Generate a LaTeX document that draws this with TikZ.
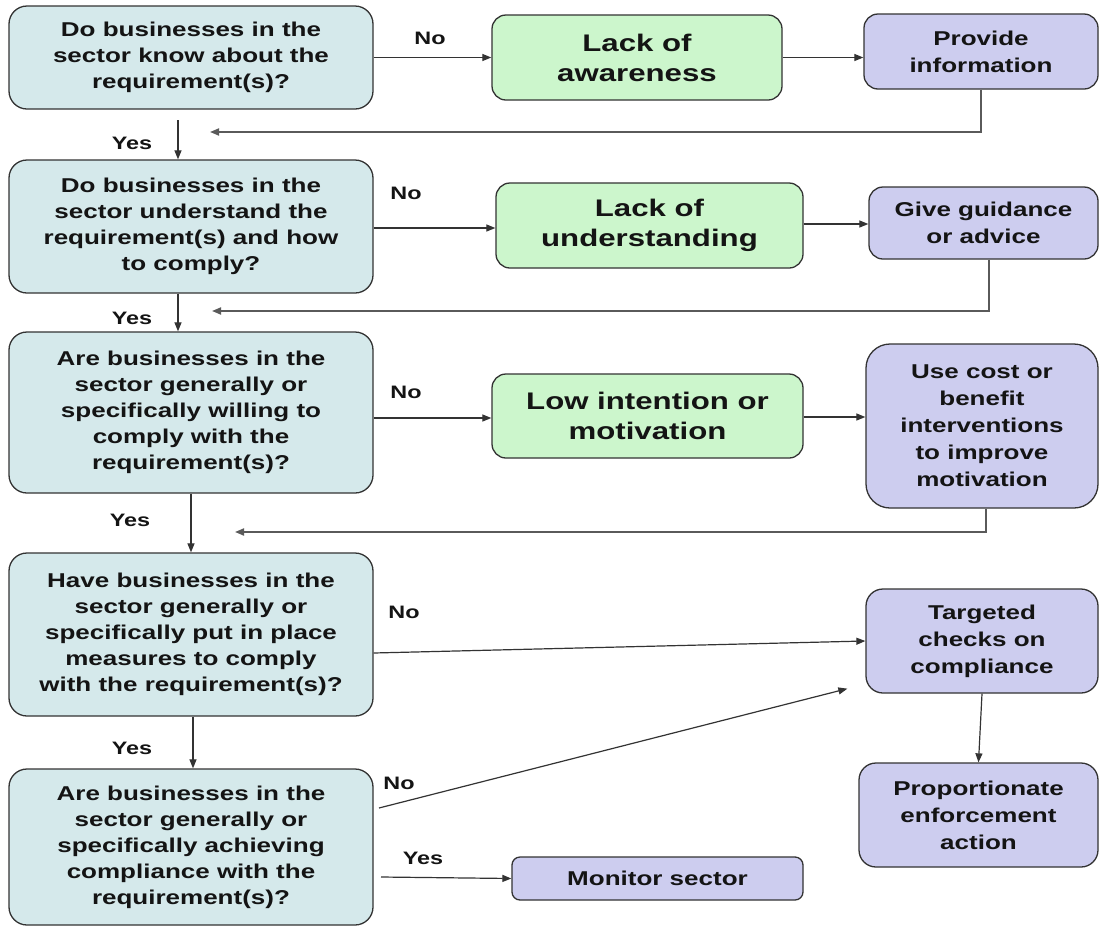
\documentclass[tikz,border=0pt]{standalone}
\usepackage{fontspec}
\setmainfont{Liberation Sans}[FakeStretch=1.3]
\usetikzlibrary{arrows.meta}
\definecolor{qfill}{HTML}{D5E9EB}
\definecolor{gfill}{HTML}{CCF6CC}
\definecolor{pfill}{HTML}{CDCDEF}
\definecolor{edgec}{HTML}{333333}
\definecolor{fbc}{HTML}{5A5A5A}
\definecolor{txt}{HTML}{141414}
\begin{document}
\begin{tikzpicture}[x=1pt,y=-1pt,
  box/.style={draw=edgec, line width=1.3pt, align=center, inner sep=0pt, text=txt},
  qbox/.style={box, fill=qfill, rounded corners=18pt, minimum width=364pt,
    font=\fontsize{20}{26}\selectfont\bfseries},
  gbox/.style={box, fill=gfill, rounded corners=14pt,
    font=\fontsize{24}{30}\selectfont\bfseries},
  pbox/.style={box, fill=pfill, rounded corners=14pt,
    font=\fontsize{20}{27}\selectfont\bfseries},
  lab/.style={font=\fontsize{18}{20}\selectfont\bfseries, text=txt, inner sep=0pt},
  conn/.style={draw=edgec, line width=1.2pt, -{Triangle[length=9pt,width=7pt]}},
  fb/.style={draw=fbc, line width=1.8pt, -{Triangle[length=9pt,width=7pt]}}
]
\useasboundingbox[fill=white] (0,0) rectangle (1101,930);

% question boxes
\node[qbox, minimum height=103pt] (q1) at (191,57.5)
  {Do businesses in the\\sector know about the\\requirement(s)?};
\node[qbox, minimum height=133pt] (q2) at (191,226.5)
  {Do businesses in the\\sector understand the\\requirement(s) and how\\to comply?};
\node[qbox, minimum height=161pt] (q3) at (191,412.5)
  {Are businesses in the\\sector generally or\\specifically willing to\\comply with the\\requirement(s)?};
\node[qbox, minimum height=163pt] (q4) at (191,634.5)
  {Have businesses in the\\sector generally or\\specifically put in place\\measures to comply\\with the requirement(s)?};
\node[qbox, minimum height=156pt] (q5) at (191,847)
  {Are businesses in the\\sector generally or\\specifically achieving\\compliance with the\\requirement(s)?};

% diagnosis boxes
\node[gbox, minimum width=290pt, minimum height=85pt] (g1) at (637,57.5) {Lack of\\awareness};
\node[gbox, minimum width=307pt, minimum height=85pt] (g2) at (649.5,225.5) {Lack of\\understanding};
\node[gbox, minimum width=311pt, minimum height=84pt] (g3) at (647.5,416) {Low intention or\\motivation};

% action boxes
\node[pbox, minimum width=234pt, minimum height=75pt] (p1) at (981,51.5) {Provide\\information};
\node[pbox, minimum width=229pt, minimum height=72pt] (p2) at (983.5,223) {Give guidance\\or advice};
\node[pbox, minimum width=232pt, minimum height=164pt, rounded corners=24pt] (p3) at (982,426)
  {Use cost or\\benefit\\interventions\\to improve\\motivation};
\node[pbox, minimum width=232pt, minimum height=104pt, rounded corners=17pt] (t) at (982,641)
  {Targeted\\checks on\\compliance};
\node[pbox, minimum width=239pt, minimum height=104pt, rounded corners=17pt] (pr) at (978.5,815)
  {Proportionate\\enforcement\\action};
\node[pbox, minimum width=291pt, minimum height=43pt, rounded corners=8pt] (mon) at (657.5,878.5)
  {Monitor sector};

% labels
\node[lab] (no1) at (430,38) {No};
\node[lab] (no2) at (406,193) {No};
\node[lab] (no3) at (406,392) {No};
\node[lab] (no4) at (404,612) {No};
\node[lab] (no5) at (399,783) {No};
\node[lab] (y1) at (132,143) {Yes};
\node[lab] (y2) at (132,318) {Yes};
\node[lab] (y3) at (130,520) {Yes};
\node[lab] (y4) at (132,748) {Yes};
\node[lab] (y5) at (423,858) {Yes};

% helper coordinates
\coordinate (fb1) at (210,132);
\coordinate (fb2) at (212,311);
\coordinate (fb3) at (235,532);
\coordinate (s1) at (178,120);
\coordinate (s5) at (379,808);
\coordinate (s6) at (381,877);

% connectors: No branches
\draw[conn] (q1.east) -- (g1.west);
\draw[conn] (g1.east) -- (g1.east -| p1.west);
\draw[conn] (q2.east |- 0,228) -- (g2.west |- 0,228);
\draw[conn] (g2.east |- 0,224) -- (p2.west |- 0,224);
\draw[conn] (q3.east |- 0,418) -- (g3.west |- 0,418);
\draw[conn] (g3.east |- 0,417) -- (p3.west |- 0,417);
\draw[conn] ([yshift=-18.5pt]q4.east) -- (t.west);
\draw[conn] (s5) -- ([xshift=-18pt,yshift=5pt]t.south west);
\draw[conn] (t.south) -- (pr.north);
\draw[conn] (s6) -- (mon.west);

% feedback lines
\draw[fb] (p1.south) -- (p1.south |- fb1) -- (fb1);
\draw[fb] (p2.south -| 989,0) -- (989,311) -- (fb2);
\draw[fb] (p3.south -| 986,0) -- (986,532) -- (fb3);

% Yes branches
\draw[conn] (s1) -- (s1 |- q2.north);
\draw[conn] ([xshift=-13pt]q2.south) -- ([xshift=-13pt]q2.south |- q3.north);
\draw[conn] (q3.south) -- (q4.north);
\draw[conn] ([xshift=2pt]q4.south) -- ([xshift=2pt]q5.north);
\end{tikzpicture}
\end{document}
